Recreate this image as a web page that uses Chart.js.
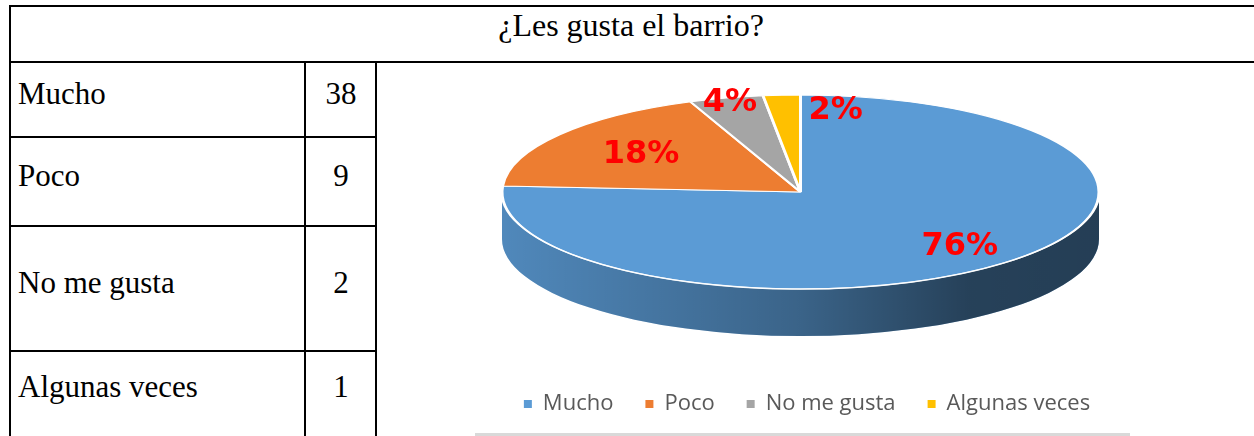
<!DOCTYPE html>
<html>
<head>
<meta charset="utf-8">
<script src="https://cdn.jsdelivr.net/npm/chart.js@4.4.0/dist/chart.umd.min.js"></script>
<style>
  html, body { margin: 0; padding: 0; background: #fff; width: 1254px; height: 436px; overflow: hidden; }
  .ln { position: absolute; background: #000; }
  .t { position: absolute; font-family: "Liberation Serif", "Times New Roman", serif; font-size: 31px; line-height: 31px; color: #000; white-space: nowrap; }
  #wrap { position: absolute; left: 377px; top: 63px; width: 877px; height: 373px; }
  #shadow { position: absolute; left: 475px; top: 433px; width: 655px; height: 3px; background: #d9d9d9; }
</style>
</head>
<body>
<div id="table"></div>
<div id="shadow"></div>
<div id="wrap"><canvas id="pie"></canvas></div>
<script>
const title = '¿Les gusta el barrio?';
const categories = ['Mucho', 'Poco', 'No me gusta', 'Algunas veces'];
const counts = [38, 9, 2, 1];
const sliceColors = ['#5B9BD5', '#ED7D31', '#A5A5A5', '#FFC000'];

const total = counts.reduce((a, b) => a + b, 0);
const percents = counts.map(v => Math.round(v / total * 100) + '%');

// table: row edges in page pixels
const rowEdges = [62, 137, 226, 351, 470];
const table = document.getElementById('table');
function line(l, t, w, h) {
  const d = document.createElement('div');
  d.className = 'ln';
  d.style.cssText = `left:${l}px;top:${t}px;width:${w}px;height:${h}px`;
  table.appendChild(d);
}
function text(str, l, t, align) {
  const d = document.createElement('div');
  d.className = 't';
  d.textContent = str;
  d.style.top = t + 'px';
  if (align === 'center') {
    d.style.left = (l - 200) + 'px';
    d.style.width = '400px';
    d.style.textAlign = 'center';
  } else {
    d.style.left = l + 'px';
  }
  table.appendChild(d);
  return d;
}
line(9, 5, 1245, 2);
line(9, 5, 2, 431);
line(9, 61, 1245, 2);
line(304, 61, 2, 375);
line(375, 61, 2, 375);
const tt = text(title, 631, 10, 'center');
tt.style.fontSize = '32px';
categories.forEach((c, i) => {
  const mid = (rowEdges[i] + rowEdges[i + 1]) / 2;
  const top = Math.min(mid, 393) - 22;
  if (i > 0) line(9, rowEdges[i] - 1, 368, 2);
  text(c, 18, top);
  text(String(counts[i]), 341, top, 'center');
});

// 3d pie geometry in canvas pixels
const PIE = { cx: 423.5, cy: 129, rx: 298.5, ry: 97, depth: 47 };
const labelRadius = [0.78, 0.66, 0.95, 0.84];

const pie3d = {
  id: 'pie3d',
  beforeDatasetsDraw(chart) {
    const ctx = chart.ctx;
    const arcs = chart.getDatasetMeta(0).data;
    const { cx, cy, rx, ry, depth } = PIE;
    ctx.save();
    arcs.forEach((arc, i) => {
      const s = Math.max(arc.startAngle, 0);
      const e = Math.min(arc.endAngle, Math.PI);
      if (e <= s) return;
      ctx.beginPath();
      ctx.ellipse(cx, cy, rx, ry, 0, s, e);
      ctx.ellipse(cx, cy + depth, rx, ry, 0, e, s, true);
      ctx.closePath();
      ctx.fillStyle = sliceColors[i];
      ctx.fill();
      const g = ctx.createLinearGradient(cx - rx, 0, cx + rx, 0);
      g.addColorStop(0, 'rgba(0,0,0,0.12)');
      g.addColorStop(0.5, 'rgba(0,0,0,0.36)');
      g.addColorStop(0.78, 'rgba(0,0,0,0.58)');
      g.addColorStop(1, 'rgba(0,0,0,0.6)');
      ctx.fillStyle = g;
      ctx.fill();
    });
    ctx.restore();
    const a = arcs[0];
    ctx.save();
    ctx.translate(cx, cy);
    ctx.scale(rx / a.outerRadius, ry / a.outerRadius);
    ctx.translate(-a.x, -a.y);
  },
  afterDatasetsDraw(chart) {
    const ctx = chart.ctx;
    ctx.restore();
    const arcs = chart.getDatasetMeta(0).data;
    const { cx, cy, rx, ry } = PIE;
    ctx.save();
    ctx.beginPath();
    ctx.ellipse(cx, cy, rx, ry, 0, 0, Math.PI);
    ctx.strokeStyle = 'rgba(255,255,255,0.85)';
    ctx.lineWidth = 1.5;
    ctx.stroke();
    ctx.font = 'bold 32px "DejaVu Sans"';
    ctx.fillStyle = '#FF0000';
    ctx.textBaseline = 'middle';
    arcs.forEach((arc, i) => {
      const f = labelRadius[i];
      if (counts[i] / total < 0.03) {
        const ang = arc.endAngle;
        ctx.textAlign = 'left';
        ctx.fillText(percents[i], cx + rx * f * Math.cos(ang) + 8, cy + ry * f * Math.sin(ang));
      } else {
        const ang = (arc.startAngle + arc.endAngle) / 2;
        ctx.textAlign = 'center';
        ctx.fillText(percents[i], cx + rx * f * Math.cos(ang), cy + ry * f * Math.sin(ang));
      }
    });
    ctx.restore();
  }
};

const ctx = document.getElementById('pie').getContext('2d');
new Chart(ctx, {
  type: 'pie',
  data: {
    labels: categories,
    datasets: [{
      data: counts,
      backgroundColor: sliceColors,
      borderColor: '#ffffff',
      borderWidth: 1.5,
      clip: false
    }]
  },
  options: {
    responsive: true,
    maintainAspectRatio: false,
    animation: false,
    events: [],
    layout: { padding: { bottom: 11, right: 17 } },
    plugins: {
      tooltip: { enabled: false },
      legend: {
        position: 'bottom',
        labels: {
          boxWidth: 8,
          boxHeight: 8,
          padding: 32,
          color: '#595959',
          font: { family: 'Open Sans', size: 22 },
          generateLabels(chart) {
            return Chart.overrides.pie.plugins.legend.labels.generateLabels(chart)
              .map(l => ({ ...l, lineWidth: 0 }));
          }
        }
      }
    }
  },
  plugins: [pie3d]
});
</script>
</body>
</html>
